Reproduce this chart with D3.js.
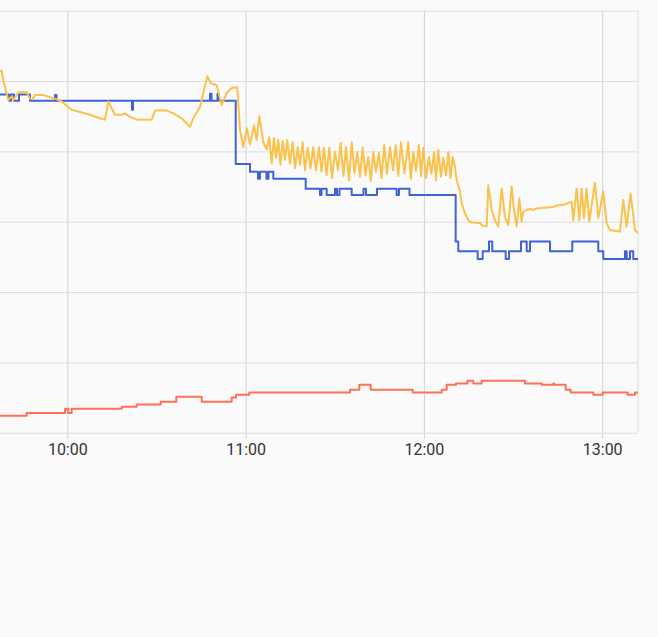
<!DOCTYPE html>
<html><head><meta charset="utf-8">
<script src="https://cdn.jsdelivr.net/npm/d3@7/dist/d3.min.js"></script>
<style>html,body{margin:0;padding:0;background:#fafafa;}svg{display:block}</style>
</head><body>
<svg id="chart" width="658" height="637"></svg>
<script>
// Time values are minutes after 09:00; y values are in chart units (grid every 10).
const tickLabels = ["10:00","11:00","12:00","13:00"];
const tickMinutes = [60,120,180,240];
const xDomainMinutes = [37.35, 252.05];
const yGridValues = [0,10,20,30,40,50,60];

const blueMin = [37.35,40.38,41.05,42.06,43.75,47.45,55.86,56.36,81.77,82.11,
  108.02,108.52,110.54,111.05,116.67,121.48,124.17,124.84,127.03,127.70,
  129.32,140.22,145.03,145.54,147.29,150.08,150.75,151.60,155.70,159.67,
  160.51,164.21,170.84,171.61,175.15,190.69,191.57,198.10,199.78,201.90,
  203.01,207.52,208.63,212.67,214.59,215.70,222.43,229.93,238.68,240.37,
  247.66,248.24,249.35,250.46,252.05];
const blueVal = [48.1,47.2,48.1,47.2,48.1,47.2,48.0,47.2,45.9,47.2,
  48.2,47.2,48.2,47.2,38.2,37.1,36.1,37.1,36.1,37.1,
  36.1,34.7,33.8,34.7,33.8,34.7,33.8,34.7,33.8,34.7,
  33.8,34.7,33.8,34.7,33.8,27.2,25.8,24.7,25.8,27.2,
  25.8,24.7,25.8,27.2,25.8,27.2,25.8,27.2,25.8,24.7,
  25.8,24.7,25.8,24.7,24.7];

const redMin = [37.35,46.34,59.22,60.33,61.48,78.31,83.35,91.43,96.68,105.23,
  115.32,116.77,121.24,155.13,158.26,162.09,176.22,185.99,187.67,190.80,
  194.60,196.62,199.45,214.01,219.63,223.54,223.88,227.71,229.39,237.00,
  240.16,248.57,251.03,252.05];
const redVal = [2.4,2.8,3.4,2.8,3.4,3.7,4.0,4.4,5.1,4.4,
  5.0,5.4,5.7,6.1,6.8,6.1,5.7,6.1,6.8,7.0,
  7.4,7.0,7.4,7.0,6.8,7.0,6.8,6.1,5.7,5.4,
  5.7,5.4,5.7,5.7];

const yellowMin = [
  37.35,37.92,38.46,40.14,41.29,41.83,43.51,46.33,47.45,48.22,
  49.13,51.92,54.18,55.86,58.11,60.33,61.48,64.27,67.64,71.00,
  72.68,73.79,76.05,78.30,79.41,81.10,83.35,88.40,89.51,93.45,
  95.67,98.49,101.29,102.39,104.65,105.76,107.11,108.25,110.27,111.95,
  113.64,115.32,117.20,118.11,119.22,120.47,121.48,122.82,123.73,124.61,
  125.95,127.10,
  127.97,128.78,129.55,130.22,131.00,131.74,132.48,133.25,134.03,134.94,
  135.84,136.62,137.53,138.30,139.21,139.98,140.89,141.83,142.78,143.68,
  144.69,145.53,146.38,147.22,148.16,149.07,150.08,151.09,152.00,152.94,
  153.78,154.79,155.70,156.64,157.58,158.49,159.40,160.34,161.28,162.12,
  162.97,163.87,164.88,165.72,166.67,167.58,168.59,169.59,170.50,171.38,
  172.29,173.46,174.74,175.58,176.42,177.33,178.34,179.02,179.79,180.70,
  181.71,182.55,183.39,184.06,184.84,185.75,186.52,187.43,188.20,188.94,
  189.68,190.46,
  191.03,192.14,192.71,193.82,194.94,196.08,198.87,199.98,201.13,201.66,
  202.81,203.92,205.03,206.17,207.28,208.40,209.54,210.31,211.22,212.10,
  212.90,213.44,214.59,215.70,216.70,217.95,219.06,220.74,223.54,224.68,
  226.90,228.15,229.73,230.27,231.41,232.29,233.09,233.87,234.77,235.65,
  237.57,238.68,240.36,241.50,242.62,245.98,247.09,248.24,249.58,251.03,
  252.05];
const yellowVal = [
  51.4,51.5,50.1,47.3,47.8,47.3,48.4,48.4,47.5,47.4,
  48.0,48.0,47.7,47.5,47.1,46.3,45.9,45.6,45.2,44.7,
  44.5,47.1,45.2,45.2,45.4,44.9,44.5,44.5,45.8,45.8,
  45.4,44.7,43.5,44.7,46.3,48.3,50.7,49.7,49.4,46.6,
  48.3,49.0,49.1,43.0,40.6,43.3,41.0,43.7,41.6,45.0,
  41.3,40.3,
  42.0,38.3,41.9,39.1,41.6,38.1,41.5,38.8,41.6,38.3,
  41.3,37.6,40.6,38.1,41.3,37.3,40.5,37.6,40.6,37.3,
  40.6,37.1,40.5,36.6,40.5,36.2,39.9,37.3,41.2,36.5,
  40.6,35.9,41.3,36.9,39.9,36.4,40.5,36.6,39.2,35.8,
  39.9,37.1,39.8,36.2,40.9,36.8,40.6,37.3,40.9,36.5,
  41.3,36.9,41.3,36.1,39.9,37.2,40.9,36.5,40.5,36.2,
  39.2,36.8,39.9,35.9,40.2,36.4,39.1,36.6,39.9,36.2,
  39.2,37.8,
  35.9,34.3,32.6,31.2,30.2,29.9,29.8,29.4,29.4,35.2,
  31.7,30.2,29.3,34.7,30.7,29.5,35.0,31.7,29.3,33.3,
  30.0,31.4,31.7,31.8,31.7,31.9,31.9,32.0,32.1,32.3,
  32.4,32.6,32.8,30.2,34.7,30.2,34.7,30.5,34.7,30.0,
  35.5,30.5,34.3,29.8,28.8,28.6,33.1,29.3,34.0,28.8,
  28.4];

const colors = {yellow:"#fbc24b", blue:"#3f63d6", red:"#ff7157"};

const base = new Date(2024,0,1,9,0,0);
const toDate = m => new Date(base.getTime() + m*60000);

const plot = {left:0, right:638, top:10.7, bottom:432.7};
const svg = d3.select("#chart");

const x = d3.scaleTime().domain(xDomainMinutes.map(toDate)).range([plot.left, plot.right]);
const y = d3.scaleLinear().domain([0,60]).range([plot.bottom, plot.top]);

// horizontal grid
const gy = svg.append("g").attr("transform",`translate(${plot.left},0)`)
  .call(d3.axisLeft(y).tickValues(yGridValues).tickSize(-(plot.right-plot.left)).tickFormat(""));
gy.select(".domain").remove();
gy.selectAll("line").attr("stroke","#dedede").attr("stroke-width",1);

// vertical grid + labels
const tickBottom = plot.bottom + 6;
const gx = svg.append("g").attr("transform",`translate(0,${tickBottom})`)
  .call(d3.axisBottom(x).tickValues(tickMinutes.map(toDate))
    .tickSize(-(tickBottom-plot.top)).tickPadding(5)
    .tickFormat((d,i)=>tickLabels[i]));
gx.select(".domain").remove();
gx.selectAll("line").attr("stroke","#d3d3d3").attr("stroke-width",1);
gx.selectAll("text").attr("font-family","Roboto, sans-serif").attr("font-size",16)
  .attr("fill","#333");

// right border
svg.append("line").attr("x1",plot.right).attr("x2",plot.right)
  .attr("y1",plot.top).attr("y2",plot.bottom).attr("stroke","#dedede");

svg.append("clipPath").attr("id","clip").append("rect")
  .attr("x",plot.left).attr("y",plot.top-5).attr("width",plot.right-plot.left).attr("height",plot.bottom-plot.top+10);

const g = svg.append("g").attr("clip-path","url(#clip)");
function draw(mins, vals, color, curve){
  const data = mins.map((m,i)=>({t:toDate(m), v:vals[i]}));
  g.append("path").datum(data)
    .attr("fill","none").attr("stroke",color).attr("stroke-width",2)
    .attr("stroke-linejoin","round")
    .attr("d", d3.line().x(d=>x(d.t)).y(d=>y(d.v)).curve(curve));
}
draw(redMin, redVal, colors.red, d3.curveStepAfter);
draw(blueMin, blueVal, colors.blue, d3.curveStepAfter);
draw(yellowMin, yellowVal, colors.yellow, d3.curveLinear);
</script>
</body></html>
